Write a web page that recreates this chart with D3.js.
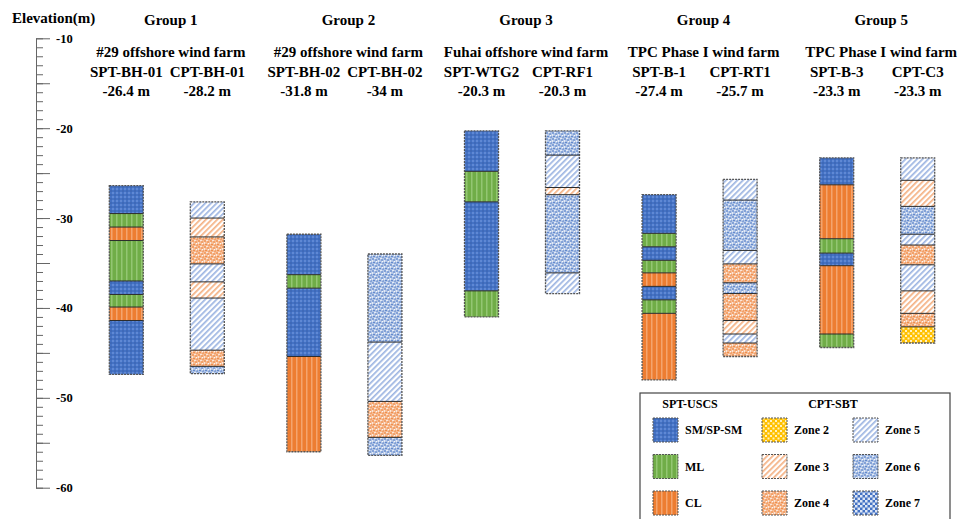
<!DOCTYPE html>
<html>
<head>
<meta charset="utf-8">
<script src="https://cdn.jsdelivr.net/npm/d3@7"></script>
<style>
  body { margin: 0; background: #fff; }
  svg { display: block; }
  text { font-family: "Liberation Serif", "Times New Roman", serif; font-weight: bold; fill: #000; }
</style>
</head>
<body>
<svg id="chart" width="961" height="519"></svg>
<script>
// ---- data ----
const groups = ["Group 1", "Group 2", "Group 3", "Group 4", "Group 5"];
const farms = ["#29 offshore wind farm", "#29 offshore wind farm", "Fuhai offshore wind farm",
               "TPC Phase I wind farm", "TPC Phase I wind farm"];
const boreholes = ["SPT-BH-01", "CPT-BH-01", "SPT-BH-02", "CPT-BH-02", "SPT-WTG2",
                   "CPT-RF1", "SPT-B-1", "CPT-RT1", "SPT-B-3", "CPT-C3"];
const boreholeGroup = [0, 0, 1, 1, 2, 2, 3, 3, 4, 4];
const topElevations = [-26.4, -28.2, -31.8, -34, -20.3, -20.3, -27.4, -25.7, -23.3, -23.3];
// bottom elevation (m) of each layer, top to bottom, per borehole
const layerBottoms = [
  [-29.5, -31.0, -32.5, -37.0, -38.5, -39.9, -41.4, -47.4],
  [-30.0, -32.1, -35.1, -37.1, -38.9, -44.7, -46.5, -47.3],
  [-36.3, -37.8, -45.4, -56.0],
  [-43.8, -50.4, -54.4, -56.4],
  [-24.8, -28.2, -38.1, -41.0],
  [-23.0, -26.6, -27.4, -36.1, -38.4],
  [-31.7, -33.2, -34.7, -36.1, -37.6, -39.1, -40.6, -48.0],
  [-28.0, -33.6, -35.1, -37.2, -38.4, -41.4, -42.9, -43.9, -45.4],
  [-26.3, -32.3, -33.9, -35.3, -42.9, -44.4],
  [-25.8, -28.7, -31.8, -33.0, -35.2, -38.1, -40.6, -42.1, -43.9]
];
// soil class of each layer (SPT: USCS, CPT: SBT zone)
const layerClasses = [
  ["SM", "ML", "CL", "ML", "SM", "ML", "CL", "SM"],
  ["Z5", "Z3", "Z4", "Z5", "Z3", "Z5", "Z4", "Z6"],
  ["SM", "ML", "SM", "CL"],
  ["Z6", "Z5", "Z4", "Z6"],
  ["SM", "ML", "SM", "ML"],
  ["Z6", "Z5", "Z3", "Z6", "Z5"],
  ["SM", "ML", "SM", "ML", "CL", "SM", "ML", "CL"],
  ["Z5", "Z6", "Z5", "Z4", "Z6", "Z4", "Z3", "Z5", "Z4"],
  ["SM", "CL", "ML", "SM", "CL", "ML"],
  ["Z5", "Z3", "Z6", "Z5", "Z4", "Z5", "Z3", "Z4", "Z2"]
];
const usclKeys = ["SM", "ML", "CL"];
const usclLabels = ["SM/SP-SM", "ML", "CL"];
const zoneKeys = ["Z2", "Z3", "Z4", "Z5", "Z6", "Z7"];
const zoneLabels = ["Zone 2", "Zone 3", "Zone 4", "Zone 5", "Zone 6", "Zone 7"];
const axisMajorTicks = [-10, -15, -20, -25, -30, -35, -40, -45, -50, -55, -60];
const axisLabelTicks = [-10, -20, -30, -40, -50, -60];

// ---- layout ----
const svg = d3.select("#chart");
const y = d3.scaleLinear().domain([-10, -60]).range([38.3, 487.7]);
const gx = d3.scaleBand().domain(groups).range([78, 966]);
const inner = d3.scalePoint().domain(["SPT", "CPT"]).range([-40.5, 40.5]);
const colW = 34;
const colX = (i) => gx(groups[boreholeGroup[i]]) + gx.bandwidth() / 2 + inner(boreholes[i].slice(0, 3));

// ---- fill patterns ----
const defs = svg.append("defs");
function pat(id, w, h, rot) {
  const p = defs.append("pattern").attr("id", id).attr("patternUnits", "userSpaceOnUse")
    .attr("width", w).attr("height", h);
  if (rot) p.attr("patternTransform", `rotate(${rot})`);
  return p;
}
// SM/SP-SM: blue fine checker
{
  const p = pat("SM", 4, 4);
  p.append("rect").attr("width", 4).attr("height", 4).attr("fill", "#4472C4");
  p.append("rect").attr("width", 2).attr("height", 2).attr("fill", "#5F88D4");
  p.append("rect").attr("x", 2).attr("y", 2).attr("width", 2).attr("height", 2).attr("fill", "#3E69B8");
}
// ML / CL: vertical stripes
[["ML", "#70AD47", "#93C672"], ["CL", "#ED7D31", "#F4A46E"]].forEach(([id, base, light]) => {
  const p = pat(id, 5, 5);
  p.append("rect").attr("width", 5).attr("height", 5).attr("fill", base);
  p.append("rect").attr("x", 1).attr("width", 1.5).attr("height", 5).attr("fill", light);
});
// Zone 2: yellow checker
{
  const p = pat("Z2", 5, 5);
  p.append("rect").attr("width", 5).attr("height", 5).attr("fill", "#FFC000");
  p.append("rect").attr("width", 2).attr("height", 2).attr("fill", "#FFF2C0");
  p.append("rect").attr("x", 2.5).attr("y", 2.5).attr("width", 2).attr("height", 2).attr("fill", "#FFF2C0");
}
// Zone 3 / Zone 5: fine diagonal hatch on white
[["Z3", "#F4B183"], ["Z5", "#9DB5E2"]].forEach(([id, c]) => {
  const p = pat(id, 4, 4, 45);
  p.append("rect").attr("width", 4).attr("height", 4).attr("fill", "#fff");
  p.append("rect").attr("width", 1.7).attr("height", 4).attr("fill", c);
});
// Zone 4 / Zone 6: speckled
[["Z4", "#F6BD96", "#ED7D31"], ["Z6", "#B4C7E7", "#4472C4"]].forEach(([id, base, dot]) => {
  const p = pat(id, 6, 6);
  p.append("rect").attr("width", 6).attr("height", 6).attr("fill", base);
  [[1, 1], [4, 2], [2, 4.5], [5, 5]].forEach(([cx, cy]) =>
    p.append("circle").attr("cx", cx).attr("cy", cy).attr("r", 0.8).attr("fill", dot));
  [[3, 0.5], [0.5, 3], [4.5, 3.8]].forEach(([cx, cy]) =>
    p.append("circle").attr("cx", cx).attr("cy", cy).attr("r", 0.7).attr("fill", "#fff"));
});
// Zone 7: blue checker
{
  const p = pat("Z7", 5, 5);
  p.append("rect").attr("width", 5).attr("height", 5).attr("fill", "#4472C4");
  p.append("rect").attr("width", 2.5).attr("height", 2.5).attr("fill", "#DDE6F5");
  p.append("rect").attr("x", 2.5).attr("y", 2.5).attr("width", 2.5).attr("height", 2.5).attr("fill", "#DDE6F5");
}

// ---- elevation axis ----
svg.append("text").attr("x", 12).attr("y", 23).attr("font-size", 15).text("Elevation(m)");
const axG = svg.append("g").attr("transform", "translate(36,0)");
axG.append("g")
  .call(d3.axisRight(y).tickValues(d3.range(-10, -60.5, -1)).tickSize(7).tickSizeOuter(0).tickFormat(""))
  .call(g => g.select(".domain").attr("stroke", "#666"))
  .call(g => g.selectAll(".tick line").attr("stroke", "#666"));
axG.append("g")
  .call(d3.axisRight(y).tickValues(axisMajorTicks).tickSize(14).tickSizeOuter(0).tickPadding(6)
    .tickFormat(d => axisLabelTicks.includes(d) ? d : ""))
  .call(g => g.select(".domain").attr("stroke", "#666"))
  .call(g => g.selectAll(".tick line").attr("stroke", "#666"))
  .call(g => g.selectAll(".tick text").attr("font-size", 12.5)
    .attr("font-family", "Liberation Serif, Times New Roman, serif").attr("font-weight", "bold"));

// ---- headers ----
const head = svg.append("g").attr("text-anchor", "middle").attr("font-size", 15);
groups.forEach((g, i) => {
  const cx = gx(g) + gx.bandwidth() / 2 + 4;
  head.append("text").attr("x", cx).attr("y", 25).text(g);
  head.append("text").attr("x", cx).attr("y", 57).text(farms[i]);
});
boreholes.forEach((b, i) => {
  head.append("text").attr("x", colX(i)).attr("y", 77).text(b);
  head.append("text").attr("x", colX(i)).attr("y", 96).text(`${topElevations[i]} m`);
});

// ---- borehole columns ----
boreholes.forEach((b, i) => {
  const x0 = colX(i) - colW / 2;
  const tops = [topElevations[i], ...layerBottoms[i].slice(0, -1)];
  const layers = layerBottoms[i].map((bot, k) => ({ top: tops[k], bot, cls: layerClasses[i][k] }));
  const g = svg.append("g");
  g.selectAll("rect.layer").data(layers).join("rect").attr("class", "layer")
    .attr("x", x0).attr("width", colW)
    .attr("y", d => y(d.top)).attr("height", d => y(d.bot) - y(d.top))
    .attr("fill", d => `url(#${d.cls})`);
  g.selectAll("line.bound").data(layerBottoms[i].slice(0, -1)).join("line").attr("class", "bound")
    .attr("x1", x0).attr("x2", x0 + colW).attr("y1", d => y(d)).attr("y2", d => y(d))
    .attr("stroke", "#2b2b2b").attr("stroke-width", 1);
  const bottom = layerBottoms[i][layerBottoms[i].length - 1];
  g.append("rect").attr("x", x0).attr("y", y(topElevations[i]))
    .attr("width", colW).attr("height", y(bottom) - y(topElevations[i]))
    .attr("fill", "none").attr("stroke", "#555").attr("stroke-width", 1.3).attr("stroke-dasharray", "2,1");
});

// ---- legend ----
const lg = svg.append("g").attr("font-size", 12);
lg.append("rect").attr("x", 640).attr("y", 393).attr("width", 310).attr("height", 140)
  .attr("fill", "#fff").attr("stroke", "#444").attr("stroke-width", 1.2);
lg.append("text").attr("x", 690).attr("y", 408).attr("text-anchor", "middle").text("SPT-USCS");
lg.append("text").attr("x", 833).attr("y", 408).attr("text-anchor", "middle").text("CPT-SBT");
const rowY = d3.scalePoint().domain([0, 1, 2]).range([418, 491]);
function swatch(x, yy, key, label) {
  lg.append("rect").attr("x", x).attr("y", yy).attr("width", 25).attr("height", 24)
    .attr("fill", `url(#${key})`).attr("stroke", "#555").attr("stroke-dasharray", "2,1");
  lg.append("text").attr("x", x + 32).attr("y", yy + 12).attr("dy", "0.35em").text(label);
}
usclKeys.forEach((k, i) => swatch(653, rowY(i), k, usclLabels[i]));
zoneKeys.forEach((k, i) => swatch(i < 3 ? 762 : 853, rowY(i % 3), k, zoneLabels[i]));
</script>
</body>
</html>
